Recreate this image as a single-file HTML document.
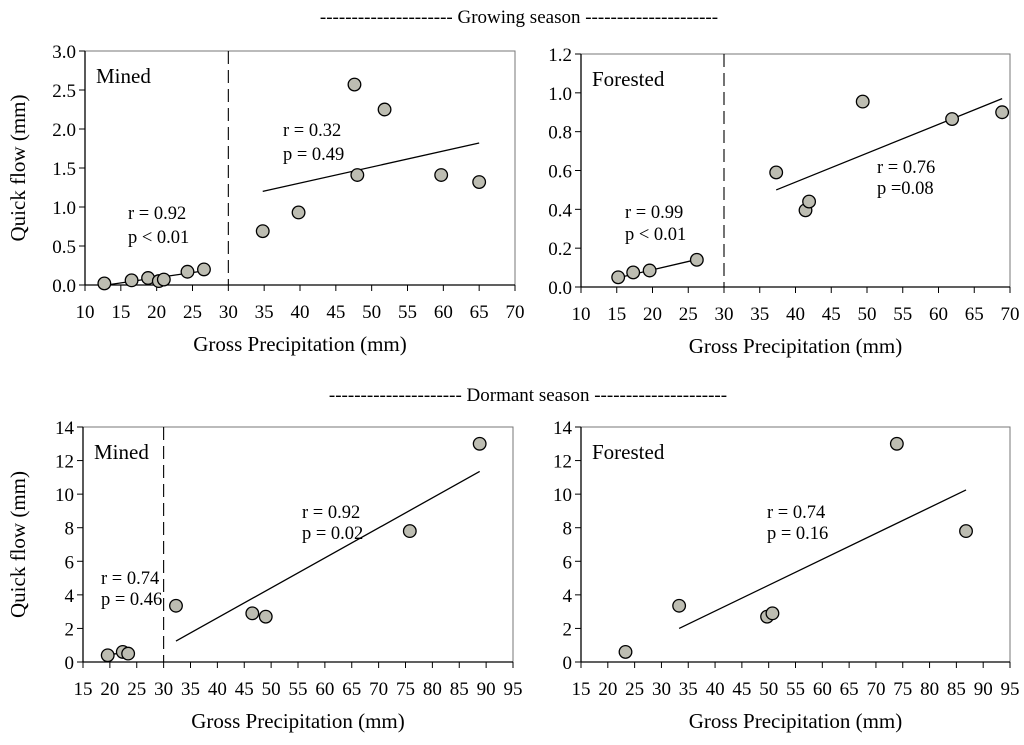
<!DOCTYPE html>
<html><head><meta charset="utf-8"><style>
html,body{margin:0;padding:0;background:#fff;}
svg{display:block;}
svg text{font-family:"Liberation Serif","Times New Roman",serif;}
</style></head><body>
<svg id="chart" width="1024" height="745" viewBox="0 0 1024 745" xmlns="http://www.w3.org/2000/svg" font-family="Liberation Serif, serif">
<text x="519" y="23" text-anchor="middle" font-size="19">--------------------- Growing season ---------------------</text>
<text x="528" y="401" text-anchor="middle" font-size="19">--------------------- Dormant season ---------------------</text>
</svg>
<script>
// Panel 1: Growing, Mined
const p1LowX=[12.7,16.5,18.8,20.3,21.0,24.3,26.6];
const p1LowY=[0.02,0.06,0.09,0.05,0.07,0.17,0.20];
const p1HighX=[34.8,39.8,47.6,48.0,51.8,59.7,65.0];
const p1HighY=[0.69,0.93,2.57,1.41,2.25,1.41,1.32];
const p1LowFit=[[13,0.0],[26.5,0.18]];
const p1HighFit=[[34.8,1.2],[65,1.82]];
const p1XTicks=[10,15,20,25,30,35,40,45,50,55,60,65,70];
const p1YTicks=["0.0","0.5","1.0","1.5","2.0","2.5","3.0"];
// Panel 2: Growing, Forested
const p2LowX=[15.2,17.3,19.6,26.2];
const p2LowY=[0.05,0.075,0.085,0.14];
const p2HighX=[37.3,41.4,41.9,49.4,61.9,68.9];
const p2HighY=[0.59,0.395,0.44,0.955,0.865,0.90];
const p2LowFit=[[15.5,0.05],[26,0.14]];
const p2HighFit=[[37.3,0.50],[68.9,0.97]];
const p2XTicks=[10,15,20,25,30,35,40,45,50,55,60,65,70];
const p2YTicks=["0.0","0.2","0.4","0.6","0.8","1.0","1.2"];
// Panel 3: Dormant, Mined
const p3LowX=[19.6,22.4,23.4];
const p3LowY=[0.4,0.6,0.5];
const p3HighX=[32.3,46.5,49.0,75.8,88.8];
const p3HighY=[3.35,2.9,2.7,7.8,13.0];
const p3LowFit=[[19.6,0.45],[23.5,0.55]];
const p3HighFit=[[32.3,1.25],[88.8,11.35]];
const p3XTicks=[15,20,25,30,35,40,45,50,55,60,65,70,75,80,85,90,95];
const p3YTicks=["0","2","4","6","8","10","12","14"];
// Panel 4: Dormant, Forested
const p4X=[23.3,33.3,49.7,50.7,73.9,86.8];
const p4Y=[0.6,3.35,2.7,2.9,13.0,7.8];
const p4Fit=[[33.3,2.0],[86.8,10.25]];
const p4XTicks=[15,20,25,30,35,40,45,50,55,60,65,70,75,80,85,90,95];
const p4YTicks=["0","2","4","6","8","10","12","14"];

const NS="http://www.w3.org/2000/svg";
const svg=document.getElementById('chart');
function mk(tag,attrs,parent){const e=document.createElementNS(NS,tag);for(const k in attrs)e.setAttribute(k,attrs[k]);(parent||svg).appendChild(e);return e;}

function panel(name,box,xmin,xmax,ymin,ymax,xt,yt,series,fits,dash,label,ylab,notes){
  const g=mk('g',{});
  
  
  const sx=v=>box.l+(v-xmin)/(xmax-xmin)*(box.r-box.l);
  const sy=v=>box.b-(v-ymin)/(ymax-ymin)*(box.b-box.t);
  const fr=mk('rect',{x:box.l,y:box.t,width:box.r-box.l,height:box.b-box.t,fill:'none',stroke:'#777','stroke-width':1},g);
  
  
  const xa=mk('line',{x1:box.l,x2:box.r,y1:box.b,y2:box.b,stroke:'#000','stroke-width':1.3},g);
  
  
  const ya=mk('line',{x1:box.l,x2:box.l,y1:box.t,y2:box.b,stroke:'#000','stroke-width':1.3},g);
  
  
  xt.forEach(v=>{const x=sx(v);
    mk('line',{x1:x,x2:x,y1:box.b,y2:box.b+6,stroke:'#000'},g);
    const t=mk('text',{x:x,y:box.b+33,'text-anchor':'middle','font-size':19},g);t.textContent=v;
    
    });
  yt.forEach(s=>{const y=sy(parseFloat(s));
    mk('line',{x1:box.l-6,x2:box.l,y1:y,y2:y,stroke:'#000'},g);
    const t=mk('text',{x:box.l-9,y:y+7,'text-anchor':'end','font-size':19},g);t.textContent=s;
    
    });
  if(dash){const d=mk('line',{x1:sx(30),x2:sx(30),y1:box.t,y2:box.b,stroke:'#000','stroke-dasharray':'13,6','stroke-width':1.1},g);
    
    }
  fits.forEach(f=>{const l=mk('line',{x1:sx(f[0][0]),y1:sy(f[0][1]),x2:sx(f[1][0]),y2:sy(f[1][1]),stroke:'#000','stroke-width':1.3},g);
    
    });
  series.forEach(s=>{s[0].forEach((xv,i)=>{const c=mk('circle',{cx:sx(xv),cy:sy(s[1][i]),r:6.3,fill:'#bdbdb2',stroke:'#000','stroke-width':1.3},g);
    
    });});
  const lb=mk('text',{x:box.l+11,y:box.t+32,'font-size':21},g);lb.textContent=label;
  
  
  notes.forEach(n=>{const t=mk('text',{x:n[0],y:n[1],'font-size':18.5},g);t.textContent=n[2];
    
    });
  const xl=mk('text',{x:(box.l+box.r)/2,y:box.b+66,'text-anchor':'middle','font-size':21},g);xl.textContent='Gross Precipitation (mm)';
  
  
  if(ylab){const yl=mk('text',{x:0,y:0,'text-anchor':'middle','font-size':21,transform:`translate(25,${(box.t+box.b)/2}) rotate(-90)`},g);yl.textContent='Quick flow (mm)';
    
    }
}
panel('panel-growing-mined',{l:85,r:515,t:51,b:285},10,70,0,3,p1XTicks,p1YTicks,[[p1LowX,p1LowY],[p1HighX,p1HighY]],[p1LowFit,p1HighFit],true,'Mined',true,
  [[128,219,'r = 0.92'],[128,243,'p < 0.01'],[283,136,'r = 0.32'],[283,160,'p = 0.49']]);
panel('panel-growing-forested',{l:581,r:1010,t:54,b:287},10,70,0,1.2,p2XTicks,p2YTicks,[[p2LowX,p2LowY],[p2HighX,p2HighY]],[p2LowFit,p2HighFit],true,'Forested',false,
  [[625,218,'r = 0.99'],[625,240,'p < 0.01'],[877,173,'r = 0.76'],[877,194,'p =0.08']]);
panel('panel-dormant-mined',{l:83,r:513,t:427,b:662},15,95,0,14,p3XTicks,p3YTicks,[[p3LowX,p3LowY],[p3HighX,p3HighY]],[p3LowFit,p3HighFit],true,'Mined',true,
  [[101,584,'r = 0.74'],[101,605,'p = 0.46'],[302,518,'r = 0.92'],[302,539,'p = 0.02']]);
panel('panel-dormant-forested',{l:581,r:1010,t:427,b:662},15,95,0,14,p4XTicks,p4YTicks,[[p4X,p4Y]],[p4Fit],false,'Forested',false,
  [[767,518,'r = 0.74'],[767,539,'p = 0.16']]);
</script>
</body></html>
